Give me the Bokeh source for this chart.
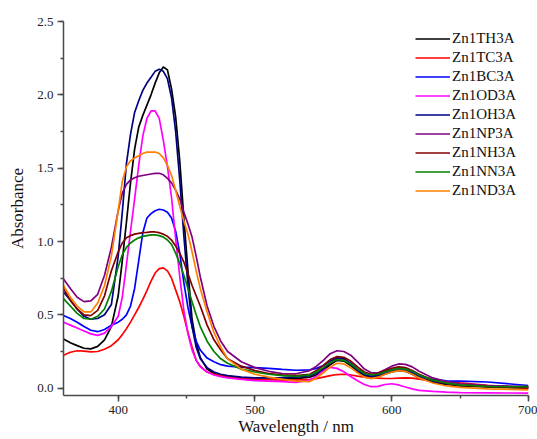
import math
from bokeh.plotting import figure
from bokeh.models import (Legend, LegendItem, Range1d,
                          SingleIntervalTicker, NumeralTickFormatter)
from bokeh.embed import file_html
from bokeh.resources import INLINE

# ---------------- data ----------------
wavelength = [360, 365, 370, 375, 380, 385, 390, 395,
              400, 403, 406, 409, 412, 415, 418, 421, 424, 427, 430, 433, 436,
              439, 442, 445, 448, 451, 454, 457, 460,
              465, 470, 475, 480,
              490, 500, 510, 520, 530, 540,
              545, 550, 555, 560, 565, 570, 575, 580, 585, 590, 595, 600, 605,
              610, 615, 620,
              630, 640, 650, 670, 700]

zn1th3a = [0.336, 0.31, 0.29, 0.272, 0.268, 0.285, 0.33, 0.42,
           0.63, 0.87, 1.13, 1.40, 1.63, 1.78, 1.86, 1.93, 2.00, 2.08, 2.15, 2.19, 2.17,
           2.04, 1.85, 1.55, 1.16, 0.80, 0.47, 0.31, 0.21,
           0.13, 0.10, 0.085, 0.075,
           0.065, 0.06, 0.06, 0.062, 0.065, 0.075,
           0.09, 0.12, 0.16, 0.19, 0.185, 0.155, 0.115, 0.085, 0.075, 0.08, 0.095, 0.11, 0.12,
           0.115, 0.095, 0.07,
           0.04, 0.025, 0.015, 0.008, 0.0]

zn1tc3a = [0.225, 0.245, 0.255, 0.252, 0.248, 0.25, 0.265, 0.29,
           0.33, 0.365, 0.405, 0.45, 0.50, 0.55, 0.605, 0.665, 0.73, 0.785, 0.815, 0.82, 0.80,
           0.75, 0.67, 0.59, 0.49, 0.38, 0.28, 0.19, 0.15,
           0.11, 0.095, 0.085, 0.08,
           0.07, 0.062, 0.058, 0.055, 0.055, 0.06,
           0.065, 0.075, 0.085, 0.093, 0.095, 0.09, 0.082, 0.075, 0.07, 0.068, 0.066, 0.066, 0.068,
           0.07, 0.068, 0.062,
           0.052, 0.045, 0.036, 0.02, 0.0]

zn1bc3a = [0.495, 0.475, 0.45, 0.42, 0.395, 0.385, 0.40, 0.43,
           0.45, 0.47, 0.50, 0.56, 0.68, 0.87, 1.06, 1.16, 1.19, 1.21, 1.22, 1.215, 1.20,
           1.16, 1.07, 0.92, 0.72, 0.55, 0.42, 0.32, 0.26,
           0.205, 0.18, 0.16, 0.15,
           0.143, 0.14, 0.135, 0.128, 0.122, 0.125,
           0.135, 0.155, 0.185, 0.205, 0.20, 0.17, 0.13, 0.10, 0.09, 0.095, 0.11, 0.125, 0.135,
           0.13, 0.11, 0.085,
           0.06, 0.05, 0.048, 0.042, 0.018]

zn1od3a = [0.45, 0.43, 0.41, 0.39, 0.37, 0.36, 0.375, 0.42,
           0.49, 0.62, 0.84, 1.07, 1.29, 1.52, 1.72, 1.84, 1.89, 1.89, 1.84, 1.69, 1.51,
           1.30, 1.02, 0.76, 0.53, 0.37, 0.26, 0.19, 0.145,
           0.11, 0.09, 0.078, 0.07,
           0.06, 0.052, 0.048, 0.045, 0.04, 0.055,
           0.08, 0.12, 0.142, 0.135, 0.112, 0.08, 0.05, 0.025, 0.01, 0.012, 0.025, 0.03, 0.022,
           0.008, -0.005, -0.015,
           -0.022, -0.027, -0.03, -0.032, -0.034]

zn1oh3a = [0.655, 0.60, 0.54, 0.49, 0.47, 0.475, 0.50, 0.57,
           0.90, 1.20, 1.53, 1.73, 1.88, 1.96, 2.03, 2.08, 2.12, 2.16, 2.175, 2.16, 2.11,
           1.98, 1.75, 1.42, 1.04, 0.70, 0.42, 0.28, 0.20,
           0.14, 0.11, 0.095, 0.085,
           0.075, 0.07, 0.07, 0.072, 0.075, 0.085,
           0.10, 0.13, 0.175, 0.205, 0.20, 0.165, 0.12, 0.09, 0.08, 0.085, 0.10, 0.115, 0.125,
           0.12, 0.10, 0.075,
           0.045, 0.03, 0.02, 0.012, 0.005]

zn1np3a = [0.745, 0.68, 0.62, 0.59, 0.595, 0.64, 0.77, 0.96,
           1.21, 1.33, 1.39, 1.42, 1.435, 1.445, 1.45, 1.455, 1.46, 1.465, 1.465, 1.455, 1.43,
           1.40, 1.35, 1.29, 1.20, 1.12, 1.03, 0.90, 0.76,
           0.56, 0.42, 0.32, 0.25,
           0.18, 0.14, 0.115, 0.10, 0.098, 0.12,
           0.15, 0.19, 0.235, 0.255, 0.25, 0.225, 0.18, 0.13, 0.105, 0.105, 0.125, 0.15, 0.165,
           0.162, 0.145, 0.115,
           0.07, 0.045, 0.03, 0.018, 0.01]

zn1nh3a = [0.68, 0.60, 0.54, 0.50, 0.495, 0.53, 0.63, 0.80,
           0.93, 0.99, 1.025, 1.04, 1.05, 1.055, 1.06, 1.062, 1.065, 1.065, 1.06, 1.05, 1.035,
           1.01, 0.97, 0.92, 0.86, 0.78, 0.70, 0.63, 0.56,
           0.43, 0.33, 0.26, 0.20,
           0.15, 0.12, 0.10, 0.09, 0.085, 0.095,
           0.12, 0.155, 0.195, 0.215, 0.21, 0.185, 0.145, 0.11, 0.095, 0.10, 0.12, 0.135, 0.145,
           0.14, 0.12, 0.095,
           0.055, 0.032, 0.02, 0.01, 0.005]

zn1nn3a = [0.61, 0.56, 0.51, 0.475, 0.47, 0.49, 0.54, 0.66,
           0.83, 0.91, 0.96, 0.99, 1.01, 1.025, 1.035, 1.04, 1.045, 1.045, 1.04, 1.03, 1.01,
           0.98, 0.92, 0.85, 0.77, 0.68, 0.59, 0.50, 0.42,
           0.32, 0.25, 0.20, 0.17,
           0.13, 0.11, 0.095, 0.085, 0.08, 0.09,
           0.11, 0.14, 0.175, 0.195, 0.19, 0.165, 0.13, 0.10, 0.09, 0.095, 0.11, 0.125, 0.135,
           0.13, 0.115, 0.09,
           0.055, 0.035, 0.022, 0.012, 0.01]

zn1nd3a = [0.70, 0.62, 0.56, 0.52, 0.52, 0.58, 0.70, 0.90,
           1.21, 1.41, 1.51, 1.55, 1.57, 1.585, 1.60, 1.61, 1.61, 1.61, 1.60, 1.57, 1.52,
           1.45, 1.35, 1.24, 1.14, 1.05, 0.93, 0.80, 0.68,
           0.52, 0.38, 0.28, 0.20,
           0.13, 0.095, 0.075, 0.06, 0.048, 0.045,
           0.07, 0.105, 0.145, 0.17, 0.165, 0.14, 0.105, 0.075, 0.065, 0.075, 0.095, 0.11, 0.12,
           0.115, 0.095, 0.07,
           0.035, 0.015, 0.005, -0.005, -0.012]

series_names = ["Zn1TH3A", "Zn1TC3A", "Zn1BC3A", "Zn1OD3A", "Zn1OH3A",
                "Zn1NP3A", "Zn1NH3A", "Zn1NN3A", "Zn1ND3A"]
series_values = [zn1th3a, zn1tc3a, zn1bc3a, zn1od3a, zn1oh3a,
                 zn1np3a, zn1nh3a, zn1nn3a, zn1nd3a]
series_colors = ["#000000", "#ff0000", "#0000ff", "#ff00ff", "#000080",
                 "#800080", "#800000", "#008000", "#ff8000"]

x_label = "Wavelength / nm"
y_label = "Absorbance"

# ---------------- figure ----------------
FONT = "Liberation Serif"
W, H = 537, 439
p = figure(width=W, height=H, output_backend="svg", toolbar_location=None,
           x_range=Range1d(360, 700), y_range=Range1d(-0.05, 2.5),
           min_border_left=63, min_border_right=9, min_border_top=21,
           min_border_bottom=44)
p.grid.visible = False
p.outline_line_color = None
p.background_fill_color = "white"

p.xaxis.ticker = SingleIntervalTicker(interval=100, num_minor_ticks=2)
p.yaxis.ticker = SingleIntervalTicker(interval=0.5, num_minor_ticks=2)
p.yaxis.formatter = NumeralTickFormatter(format="0.0")

for ax in (p.xaxis, p.yaxis):
    ax.axis_line_color = "#4a4a4a"
    ax.axis_line_width = 1.5
    ax.major_tick_line_color = "#4a4a4a"
    ax.major_tick_line_width = 1.5
    ax.minor_tick_line_color = "#4a4a4a"
    ax.minor_tick_line_width = 1.5
    ax.major_tick_in = 0
    ax.major_tick_out = 6
    ax.minor_tick_in = 0
    ax.minor_tick_out = 3
    ax.major_label_text_font = FONT
    ax.major_label_text_font_size = "13px"
    ax.major_label_text_color = "#222222"
    ax.axis_label_text_font = FONT
    ax.axis_label_text_font_size = "17px"
    ax.axis_label_text_font_style = "normal"
    ax.axis_label_text_color = "#111111"

p.xaxis.axis_label = x_label
p.yaxis.axis_label = y_label
p.xaxis.major_label_standoff = 4
p.xaxis.axis_label_standoff = 0
p.yaxis.major_label_standoff = 4
p.yaxis.axis_label_standoff = 7

renderers = []
for name, vals, col in zip(series_names, series_values, series_colors):
    r = p.line(wavelength, vals, line_color=col, line_width=1.7)
    renderers.append(r)

legend = Legend(items=[LegendItem(label=n, renderers=[r])
                       for n, r in zip(series_names, renderers)],
                location=(352, 195), orientation="vertical",
                glyph_width=35, glyph_height=19, label_height=19,
                spacing=0, padding=0, margin=0, label_standoff=2,
                border_line_color=None, background_fill_alpha=0,
                label_text_font=FONT, label_text_font_size="15px",
                label_text_color="#111111")
p.add_layout(legend, "center")

open("out.html", "w").write(file_html(p, INLINE))
